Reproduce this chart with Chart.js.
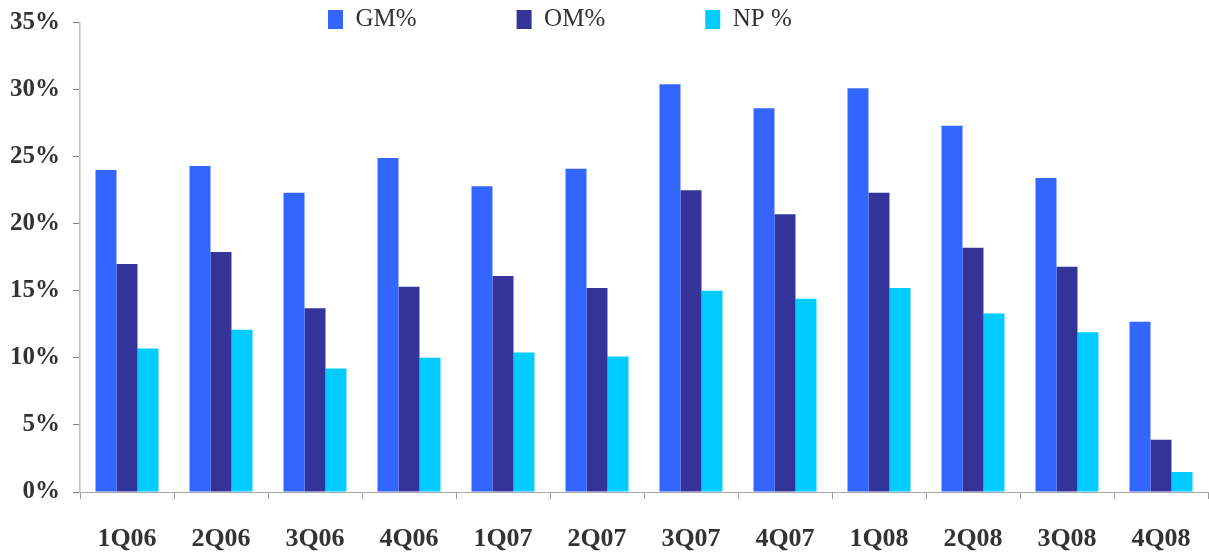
<!DOCTYPE html>
<html>
<head>
<meta charset="utf-8">
<title>GM% / OM% / NP %</title>
<script src="https://cdn.jsdelivr.net/npm/chart.js@4.4.1/dist/chart.umd.min.js"></script>
<style>
  html, body { margin: 0; padding: 0; background: #ffffff; }
  canvas { display: block; }
</style>
</head>
<body>
<canvas id="margins" width="1209" height="552"></canvas>
<script>
// Quarterly margins, in percent
const quarters = ['1Q06', '2Q06', '3Q06', '4Q06', '1Q07', '2Q07', '3Q07', '4Q07', '1Q08', '2Q08', '3Q08', '4Q08'];
const gmPct = [24.0, 24.3, 22.3, 24.9, 22.8, 24.1, 30.4, 28.6, 30.1, 27.3, 23.4, 12.7];
const omPct = [17.0, 17.9, 13.7, 15.3, 16.1, 15.2, 22.5, 20.7, 22.3, 18.2, 16.8, 3.9];
const npPct = [10.7, 12.1, 9.2, 10.0, 10.4, 10.1, 15.0, 14.4, 15.2, 13.3, 11.9, 1.5];
const seriesNames = ['GM%', 'OM%', 'NP %'];

// Value axis: 0% to 35% in 5% steps
const yMin = 0;
const yMax = 35;
const yStep = 5;

const TEXT = '#333333';
const SERIF = "'Liberation Serif', 'Times New Roman', serif";
const LEGEND_FONT = 25;
const LEGEND_BOX_W = 15;
const LEGEND_BOX_H = 19;
const LEGEND_GAP = 100;

// Place the legend row over the top of the plot, starting at a fixed x.
const legendPlacement = {
  id: 'legendPlacement',
  afterLayout(chart) {
    const lg = chart.legend;
    if (!lg) return;
    const pad = lg.options.labels.padding;
    lg.left = 328 - pad;
    lg.right = chart.width;
    lg.top = 10 - pad - Math.max((LEGEND_FONT - LEGEND_BOX_H) / 2, 0);
    lg.bottom = 60;
  }
};

new Chart(document.getElementById('margins'), {
  type: 'bar',
  data: {
    labels: quarters,
    datasets: [
      { label: seriesNames[0], data: gmPct, backgroundColor: '#3366FF' },
      { label: seriesNames[1], data: omPct, backgroundColor: '#333399' },
      { label: seriesNames[2], data: npPct, backgroundColor: '#00CCFF' }
    ]
  },
  options: {
    responsive: false,
    animation: false,
    devicePixelRatio: 1,
    layout: { padding: { top: 21.5, right: 1, left: 0, bottom: 0 } },
    datasets: {
      bar: { categoryPercentage: 0.67, barPercentage: 1.0, borderWidth: 0 }
    },
    plugins: {
      tooltip: { enabled: false },
      legend: {
        position: 'top',
        align: 'start',
        maxHeight: 1,
        labels: {
          boxWidth: LEGEND_BOX_W,
          boxHeight: LEGEND_BOX_H,
          padding: LEGEND_GAP,
          color: TEXT,
          font: { family: SERIF, size: LEGEND_FONT, weight: 'normal' }
        }
      }
    },
    scales: {
      x: {
        afterFit(scale) {
          scale.height = 60;
          scale.paddingLeft = 0;
          scale.paddingRight = 0;
        },
        grid: {
          display: true,
          drawOnChartArea: false,
          drawTicks: true,
          tickLength: 7,
          color: '#999999',
          offset: true
        },
        border: { display: true, color: '#a6a6a6', width: 1 },
        ticks: {
          color: TEXT,
          padding: 25,
          maxRotation: 0,
          font: { family: SERIF, size: 26, weight: 'bold' }
        }
      },
      y: {
        min: yMin,
        max: yMax,
        afterFit(scale) {
          scale.width = 80;
          scale.paddingTop = 0;
          scale.paddingBottom = 0;
        },
        grid: {
          display: true,
          drawOnChartArea: false,
          drawTicks: true,
          tickLength: 7,
          color: '#808080'
        },
        border: { display: true, color: '#c0c0c0', width: 1.5 },
        ticks: {
          stepSize: yStep,
          color: TEXT,
          padding: 13,
          font: { family: SERIF, size: 25, weight: 'bold' },
          callback: (v) => v + '%'
        }
      }
    }
  },
  plugins: [legendPlacement]
});
</script>
</body>
</html>
